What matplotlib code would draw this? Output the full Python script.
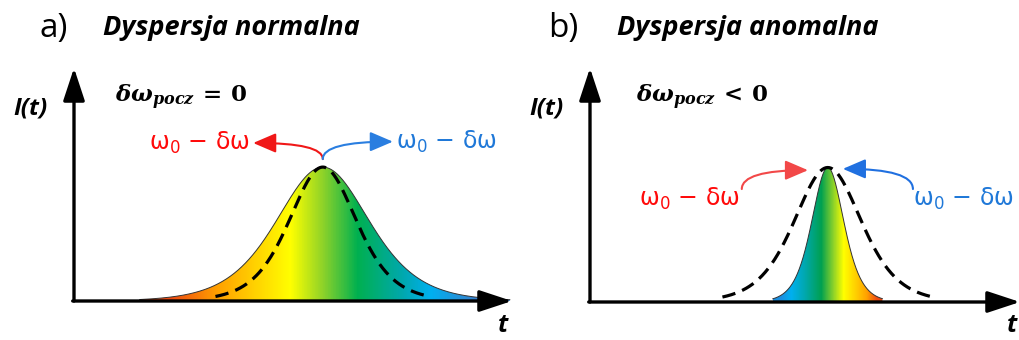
import numpy as np
import matplotlib
matplotlib.use("Agg")
import matplotlib.pyplot as plt
from matplotlib.colors import LinearSegmentedColormap

plt.rcParams['mathtext.fontset'] = 'custom'
plt.rcParams['mathtext.it'] = 'DejaVu Serif:bold:italic'
plt.rcParams['mathtext.rm'] = 'DejaVu Serif:bold'
plt.rcParams['mathtext.bf'] = 'DejaVu Serif:bold'

# pulse parameters (t in arbitrary units, peak intensity = 1, sech^2 shape)
centers = [5.68, 5.53]          # a), b)
width_pulse = [1.42, 0.50]      # coloured pulse
width_ref = [1.03, 1.05]        # dashed reference pulse
ref_half_span = [2.45, 2.45]
fill_span = [(1.50, 9.95), (4.25, 6.80)]

panel_letters = ['a)', 'b)']
titles = ['Dyspersja normalna', 'Dyspersja anomalna']
chirp_labels = [r'$\delta\omega_{pocz}\, =\, 0$', r'$\delta\omega_{pocz}\, <\, 0$']
freq_label = 'ω$_0$ − δω'

# spectrum colour stops (t, colour) across each pulse
stops_a = [(2.19, '#ee4a12'), (3.26, '#ffa000'), (4.02, '#ffcc00'), (4.93, '#ffff00'),
           (5.68, '#8cd22a'), (6.46, '#00b050'), (7.51, '#00a8b0'), (8.13, '#00b0f0'),
           (9.20, '#3a7fcc')]
stops_b = [(4.44, '#1a8ee0'), (4.67, '#00b0f0'), (4.98, '#00a8b0'), (5.37, '#00a050'),
           (5.65, '#8cd22a'), (5.89, '#ffff00'), (6.19, '#ffcc00'), (6.43, '#ffa000'),
           (6.66, '#ee4a12')]

# arrow start/end points (t, I) and label anchors
arrows = [
    [((5.68, 1.06), (4.09, 1.18), 'red'), ((5.68, 1.06), (7.28, 1.19), 'blue')],
    [((3.53, 0.84), (5.07, 0.98), 'red'), ((7.51, 0.84), (5.88, 0.99), 'blue')],
]
label_pos = [
    [((4.02, 1.18), 'right'), ((7.35, 1.19), 'left')],
    [((3.49, 0.77), 'right'), ((7.51, 0.77), 'left')],
]
text_red = '#ff0a0a'
text_blue = '#1f78d8'
arrow_cols = [('#f01818', '#2a7ee0'), ('#f24848', '#2070e0')]

YMAX = 1.74


def sech2(t, c, w):
    return 1.0 / np.cosh((t - c) / w) ** 2


def stops_cmap(stops, x0, x1, name):
    lst = [(0.0, stops[0][1])]
    for p, c in stops:
        lst.append(((p - x0) / (x1 - x0), c))
    lst.append((1.0, stops[-1][1]))
    return LinearSegmentedColormap.from_list(name, lst, N=512)


fig = plt.figure(figsize=(10.2, 3.4), dpi=100)
axes = [fig.add_axes([74 / 1020, 39 / 340, 438 / 1020, 233 / 340]),
        fig.add_axes([590 / 1020, 38 / 340, 430 / 1020, 234 / 340])]

all_stops = [stops_a, stops_b]

for i, ax in enumerate(axes):
    ax.set_xlim(0, 10)
    ax.set_ylim(0, YMAX)
    ax.axis('off')

    # coloured pulse
    x0, x1 = fill_span[i]
    t = np.linspace(x0, x1, 800)
    I = sech2(t, centers[i], width_pulse[i])
    poly = ax.fill_between(t, 0, I, color='none', lw=0)
    cmap = stops_cmap(all_stops[i], x0, x1, 'spec%d' % i)
    grad = np.linspace(0, 1, 512).reshape(1, -1)
    im = ax.imshow(grad, extent=[x0, x1, 0, 1.02], aspect='auto', cmap=cmap,
                   origin='lower', zorder=2, interpolation='nearest')
    im.set_clip_path(poly.get_paths()[0], transform=ax.transData)
    ax.plot(t, I, color='#333333', lw=0.7, zorder=3)

    # dashed reference pulse
    tr = np.linspace(centers[i] - ref_half_span[i], centers[i] + ref_half_span[i], 400)
    Ir = sech2(tr, centers[i], width_ref[i])
    ax.plot(tr, Ir, color='black', lw=2.3, ls=(0, (4.2, 2.3)), zorder=4)

    # axes arrows
    ax.annotate('', xy=(0, YMAX), xytext=(0, 0),
                arrowprops=dict(arrowstyle='-|>,head_length=1.0,head_width=0.33',
                                lw=2.4, color='black', shrinkA=0, shrinkB=0,
                                mutation_scale=20), annotation_clip=False)
    ax.annotate('', xy=(10, 0), xytext=(-0.03, 0),
                arrowprops=dict(arrowstyle='-|>,head_length=1.0,head_width=0.33',
                                lw=2.4, color='black', shrinkA=0, shrinkB=0,
                                mutation_scale=20), annotation_clip=False)

    # chirp arrows
    for (start, end, c) in arrows[i]:
        col = arrow_cols[i][0] if c == 'red' else arrow_cols[i][1]
        ax.annotate('', xy=end, xytext=start,
                    arrowprops=dict(arrowstyle='-|>,head_length=0.7,head_width=0.3',
                                    lw=1.5, color=col, shrinkA=0, shrinkB=0,
                                    mutation_scale=20,
                                    connectionstyle='angle3,angleA=90,angleB=0'),
                    annotation_clip=False, zorder=5)
    for (pos, ha), c in zip(label_pos[i], [text_red, text_blue]):
        ax.text(pos[0], pos[1], freq_label, color=c, ha=ha, va='center',
                fontsize=17, family='DejaVu Sans', math_fontfamily='dejavusans')

fig.text(40 / 1020, 1 - 29 / 340, panel_letters[0], fontsize=24, va='center',
         family='Open Sans')
fig.text(548 / 1020, 1 - 29 / 340, panel_letters[1], fontsize=24, va='center',
         family='Open Sans')
fig.text(103 / 1020, 1 - 28 / 340, titles[0], fontsize=19.5, va='center',
         family='Open Sans', weight='bold', style='italic')
fig.text(617 / 1020, 1 - 28 / 340, titles[1], fontsize=19.5, va='center',
         family='Open Sans', weight='bold', style='italic')
for x in (13, 529):
    fig.text(x / 1020, 1 - 108 / 340, 'I(t)', fontsize=17.5, va='center',
             family='Open Sans', weight='bold', style='italic')
for x in (498, 1007):
    fig.text(x / 1020, 1 - 325 / 340, 't', fontsize=18, va='center',
             family='Open Sans', weight='bold', style='italic')
fig.text(115 / 1020, 1 - 97 / 340, chirp_labels[0], fontsize=16.5, va='center')
fig.text(636 / 1020, 1 - 97 / 340, chirp_labels[1], fontsize=16.5, va='center')

fig.savefig('out.png', dpi=100, facecolor='white')
